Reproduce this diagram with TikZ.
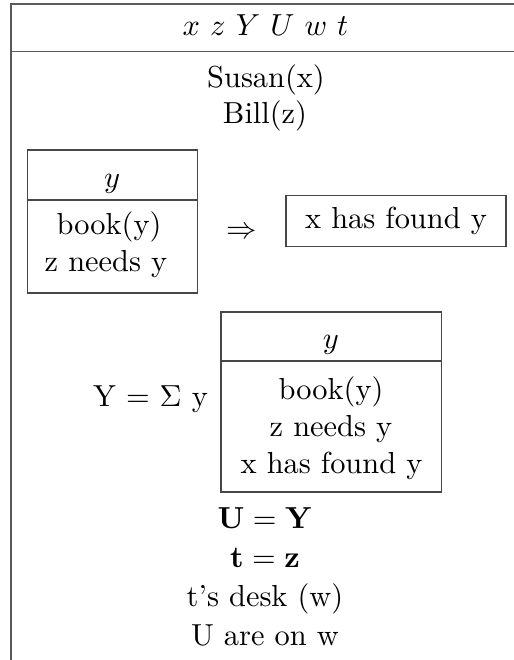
\documentclass[tikz,border=0pt]{standalone}
\begin{document}
\begin{tikzpicture}[x=0.3289pt, y=-0.3289pt,
  frame/.style={draw=black!65, line width=0.6pt},
  inner/.style={draw=black!72, line width=0.42pt},
  txt/.style={inner sep=0pt, anchor=base}]
\useasboundingbox (0,0) rectangle (514,660);

% outer DRS frame (open at the bottom and on the right)
\coordinate (oTL) at (11,4);
\coordinate (oTR) at (514,4);
\coordinate (oBL) at (11,660);
\coordinate (sL) at (11,51.5);
\coordinate (sR) at (514,51.5);
\draw[frame] (oBL) -- (oTL) -- (oTR);
\draw[frame] (sL) -- (sR);

% universe and first conditions
\node[txt] (univ) at (265.5,35) {$x$ $z$ $Y$ $U$ $w$ $t$};
\node[txt] (susan) at (266,87) {Susan(x)};
\node[txt] (bill) at (265,123) {Bill(z)};

% conditional: antecedent box
\draw[inner] (27.5,150) rectangle (197.5,293);
\draw[inner] (27.5,200) -- (197.5,200);
\node[txt] (ay) at (112,187) {$y$};
\node[txt] (abook) at (109,234) {book(y)};
\node[txt] (aneed) at (106,271) {z needs y};

\node[inner sep=0pt] (imp) at (241.5,233) {$\Rightarrow$};

% consequent box
\node[inner, inner sep=0pt, minimum width=72.4pt, minimum height=17pt]
  (cons) at (396,221) {x has found y};

% summation box
\node[txt] (sum) at (150.5,406.5) {Y $=$ $\Sigma$ y};
\draw[inner] (221,312) rectangle (441.5,492);
\draw[inner] (221,361) -- (441.5,361);
\node[txt] (sy) at (331,348) {$y$};
\node[txt] (sbook) at (331,399) {book(y)};
\node[txt] (sneed) at (331,436) {z needs y};
\node[txt] (sfound) at (331.5,473) {x has found y};

% remaining conditions
\node[txt] (uy) at (265,528) {$\mathbf{U}=\mathbf{Y}$};
\node[txt] (tz) at (265,567) {$\mathbf{t}=\mathbf{z}$};
\node[txt] (desk) at (265,606) {t's desk (w)};
\node[txt] (on) at (265,645) {U are on w};
\end{tikzpicture}
\end{document}
